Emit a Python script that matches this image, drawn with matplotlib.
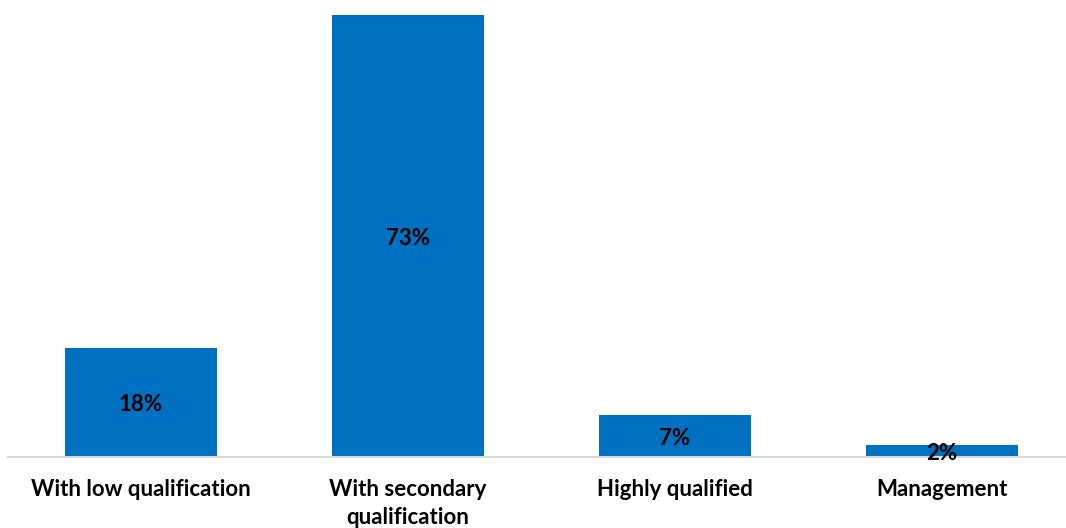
import matplotlib
matplotlib.use("Agg")
import matplotlib.pyplot as plt

categories = ["With low qualification", "With secondary\nqualification",
              "Highly qualified", "Management"]
shares = [18, 73, 7, 2]
value_labels = ["18%", "73%", "7%", "2%"]

plt.rcParams['font.family'] = ['Lato', 'DejaVu Sans']

W, H = 1066, 528
fig = plt.figure(figsize=(W / 100, H / 100), dpi=100)
px_per_unit = 6.055
ymax = 80
ax = fig.add_axes([7.5 / W, (H - 457) / H, 1068 / W, ymax * px_per_unit / H])

x = range(len(categories))
bars = ax.bar(x, shares, width=0.573, color="#0070C0", zorder=2)
for b, lab in zip(bars, value_labels):
    ax.text(b.get_x() + b.get_width() / 2, b.get_height() / 2 - 0.4, lab,
            ha="center", va="center", fontsize=16, fontweight="bold", color="black", zorder=3)

ax.set_xlim(-0.5, 3.5)
ax.set_ylim(0, ymax)
ax.set_yticks([])
ax.set_xticks(list(x))
ax.set_xticklabels(categories, fontsize=16, fontweight="bold", linespacing=1.4)
ax.tick_params(axis="x", length=0, pad=16)
for s in ["top", "right", "left"]:
    ax.spines[s].set_visible(False)
ax.spines["bottom"].set_color("#d9d9d9")
ax.spines["bottom"].set_linewidth(1.5)

fig.savefig("out.png", dpi=100)
